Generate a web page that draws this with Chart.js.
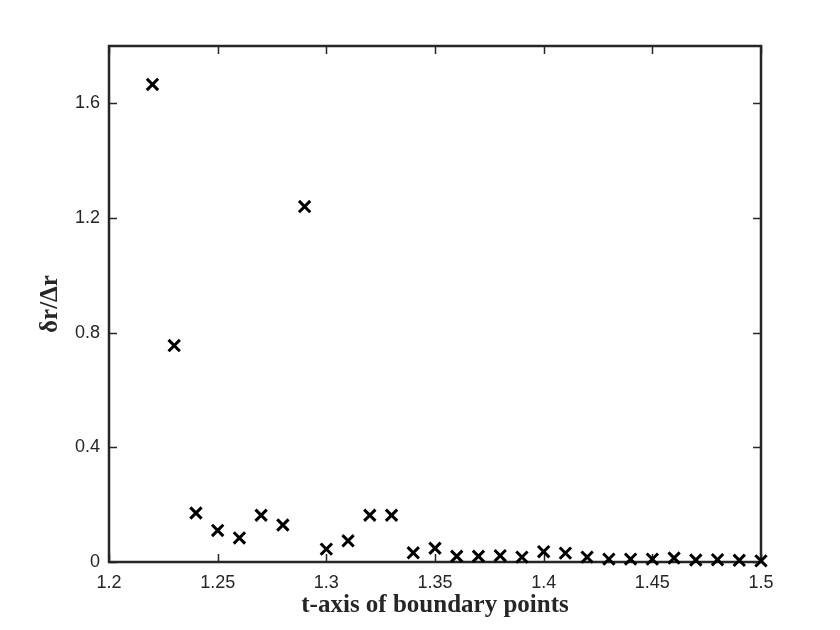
<!DOCTYPE html>
<html>
<head>
<meta charset="utf-8">
<script src="https://cdn.jsdelivr.net/npm/chart.js@4/dist/chart.umd.min.js"></script>
<style>
  html, body { margin: 0; padding: 0; background: #fff; }
  #wrap { width: 840px; height: 630px; }
</style>
</head>
<body>
<div id="wrap"><canvas id="chart" width="840" height="630"></canvas></div>
<script>
const tValues = [1.22, 1.23, 1.24, 1.25, 1.26, 1.27, 1.28, 1.29, 1.30, 1.31,
  1.32, 1.33, 1.34, 1.35, 1.36, 1.37, 1.38, 1.39, 1.40, 1.41,
  1.42, 1.43, 1.44, 1.45, 1.46, 1.47, 1.48, 1.49, 1.50];
const ratioValues = [1.666, 0.755, 0.171, 0.110, 0.084, 0.163, 0.129, 1.240, 0.045, 0.074,
  0.163, 0.163, 0.032, 0.048, 0.020, 0.020, 0.022, 0.017, 0.036, 0.031,
  0.017, 0.010, 0.010, 0.010, 0.014, 0.007, 0.008, 0.006, 0.004];
const xTicks = [1.2, 1.25, 1.3, 1.35, 1.4, 1.45, 1.5];
const yTicks = [0, 0.4, 0.8, 1.2, 1.6];

const AXIS = '#262626';

// MATLAB style box + inward ticks
const boxTicks = {
  id: 'boxTicks',
  beforeDatasetsDraw(chart) {
    const { ctx, chartArea: a, scales } = chart;
    ctx.save();
    ctx.strokeStyle = AXIS;
    ctx.lineWidth = 1.5;
    const len = 8;
    ctx.beginPath();
    xTicks.forEach(v => {
      const px = Math.round(scales.x.getPixelForValue(v)) + 0.5;
      ctx.moveTo(px, a.bottom); ctx.lineTo(px, a.bottom - len);
      ctx.moveTo(px, a.top); ctx.lineTo(px, a.top + len);
    });
    yTicks.forEach(v => {
      const py = Math.round(scales.y.getPixelForValue(v)) + 0.5;
      ctx.moveTo(a.left, py); ctx.lineTo(a.left + len, py);
      ctx.moveTo(a.right, py); ctx.lineTo(a.right - len, py);
    });
    ctx.stroke();
    ctx.lineWidth = 2.5;
    ctx.strokeRect(a.left, a.top, a.right - a.left, a.bottom - a.top);
    ctx.restore();
  }
};

new Chart(document.getElementById('chart'), {
  type: 'scatter',
  data: {
    datasets: [{
      data: tValues.map((t, i) => ({ x: t, y: ratioValues[i] })),
      pointStyle: 'crossRot',
      pointRadius: 8,
      pointHoverRadius: 8,
      borderColor: '#000',
      backgroundColor: '#000',
      pointBorderWidth: 3,
      showLine: false,
      clip: false
    }]
  },
  options: {
    responsive: false,
    animation: false,
    layout: { padding: { left: 36, right: 79, top: 46, bottom: 9 } },
    plugins: { legend: { display: false }, tooltip: { enabled: false } },
    scales: {
      x: {
        type: 'linear',
        min: 1.2, max: 1.5,
        afterBuildTicks: s => { s.ticks = xTicks.map(v => ({ value: v })); },
        afterFit: s => { s.height = 59; },
        grid: { display: false, drawTicks: false },
        border: { display: false },
        ticks: {
          color: AXIS, padding: 10, maxRotation: 0, autoSkip: false,
          font: { family: 'Liberation Sans, Arial, sans-serif', size: 18 },
          callback: v => String(v)
        },
        title: {
          display: true, text: 't-axis of boundary points', color: AXIS,
          padding: { top: 0, bottom: 0 },
          font: { family: 'Liberation Serif, Times New Roman, serif', size: 25, weight: 'bold' }
        }
      },
      y: {
        min: 0, max: 1.8,
        afterBuildTicks: s => { s.ticks = yTicks.map(v => ({ value: v })); },
        afterFit: s => { s.width = 73; },
        grid: { display: false, drawTicks: false },
        border: { display: false },
        ticks: {
          color: AXIS, padding: 9,
          font: { family: 'Liberation Sans, Arial, sans-serif', size: 18 },
          callback: v => String(v)
        },
        title: {
          display: true, text: 'δr/Δr', color: AXIS,
          padding: { top: 0, bottom: 6 },
          font: { family: 'Liberation Serif, Times New Roman, serif', size: 25, weight: 'bold' }
        }
      }
    }
  },
  plugins: [boxTicks]
});
</script>
</body>
</html>
